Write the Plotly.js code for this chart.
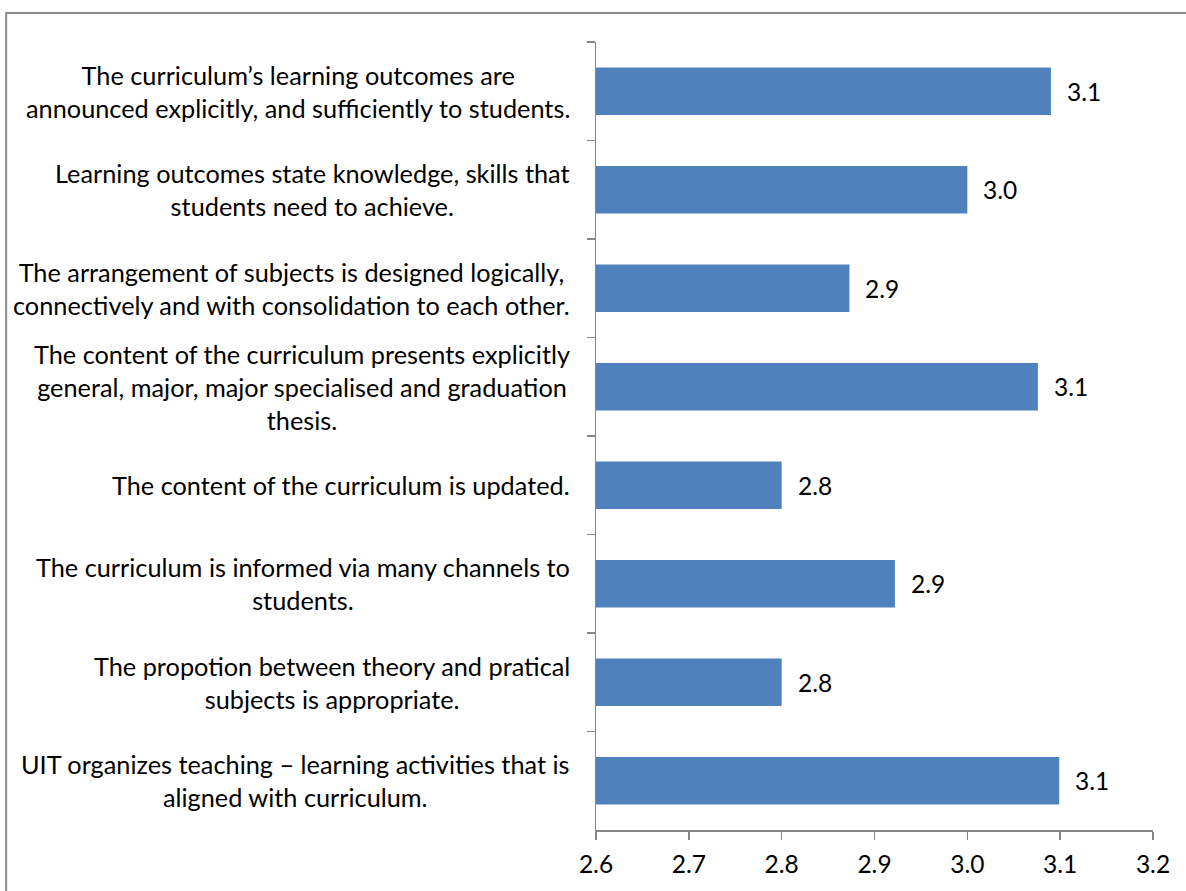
<!DOCTYPE html>
<html>
<head>
<meta charset="utf-8">
<script src="https://cdn.plot.ly/plotly-3.0.1.min.js"></script>
<style>
html,body{margin:0;padding:0;background:#fff;}
#chart{width:1186px;height:891px;}
</style>
</head>
<body>
<div id="chart"></div>
<script>
const categories = [
  "The curriculum’s learning outcomes are<br>announced explicitly, and sufficiently to students.",
  "Learning outcomes state knowledge, skills that<br>students need to achieve.",
  "The arrangement of subjects is designed logically,<br>connectively and with consolidation to each other.",
  "The content of the curriculum presents explicitly<br>general, major, major specialised and graduation<br>thesis.",
  "The content of the curriculum is updated.",
  "The curriculum is informed via many channels to<br>students.",
  "The propotion between theory and pratical<br>subjects is appropriate.",
  "UIT organizes teaching – learning activities that is<br>aligned with curriculum."
];
const values = [3.09, 3.00, 2.873, 3.076, 2.80, 2.922, 2.80, 3.099];
const xTicks = [2.6, 2.7, 2.8, 2.9, 3.0, 3.1, 3.2];

const FONT = "Lato, 'Open Sans', sans-serif";
const TXT = "#000000";
const AX = "#868686";

const trace = {
  type: "bar",
  orientation: "h",
  y: categories,
  x: values,
  marker: {color: "#4F81BD"},
  hoverinfo: "skip"
};

const annotations = [];
categories.forEach((c, i) => {
  annotations.push({
    xref: "paper", yref: "y", x: -0.043, y: c,
    xanchor: "right", yanchor: "middle", align: "center",
    text: c, showarrow: false,
    font: {family: FONT, size: 25.3, color: TXT}
  });
  annotations.push({
    xref: "x", yref: "y", x: values[i], y: c,
    xanchor: "left", yanchor: "middle", xshift: 14,
    text: values[i].toFixed(1), showarrow: false,
    font: {family: FONT, size: 24.5, color: TXT}
  });
});

const layout = {
  width: 1186, height: 891,
  margin: {l: 596, r: 33, t: 42, b: 61},
  paper_bgcolor: "#fff", plot_bgcolor: "#fff",
  showlegend: false,
  bargap: 0.52,
  xaxis: {
    range: [2.6, 3.2], tickvals: xTicks, ticktext: xTicks.map(v => v.toFixed(1)),
    showgrid: false, zeroline: false, showline: true, linecolor: AX, linewidth: 1.5,
    ticks: "outside", ticklen: 8, tickcolor: AX, tickwidth: 1.5, ticklabelstandoff: 4,
    tickfont: {family: FONT, size: 24.5, color: TXT}
  },
  yaxis: {
    type: "category", categoryarray: categories, autorange: "reversed",
    showticklabels: false, showgrid: false, zeroline: false,
    showline: true, linecolor: AX, linewidth: 1.5,
    ticks: "outside", ticklen: 8, tickcolor: AX, tickwidth: 1.5, tickson: "boundaries"
  },
  annotations: annotations,
  shapes: [{
    type: "rect", xref: "paper", yref: "paper",
    x0: -1.059, x1: 1.2, y0: -0.2, y1: 1.0368,
    line: {color: "#8a8a8a", width: 2}, fillcolor: "rgba(0,0,0,0)"
  }]
};

Plotly.newPlot("chart", [trace], layout, {displayModeBar: false, staticPlot: true});
</script>
</body>
</html>
